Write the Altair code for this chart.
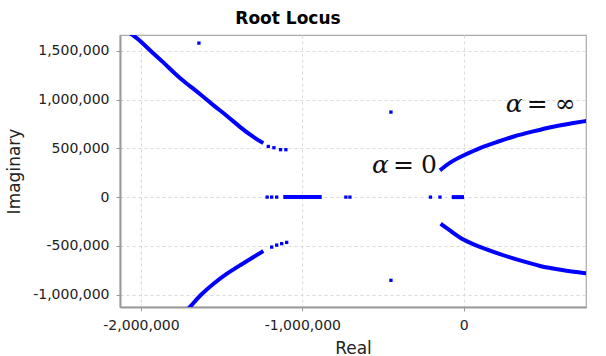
import altair as alt
import pandas as pd

# ---- data (units: real / imaginary) ----
ul_re = [-2.07e6, -2.048e6, -2.007e6, -1.934e6, -1.862e6, -1.790e6, -1.717e6, -1.635e6, -1.552e6, -1.469e6, -1.387e6, -1.304e6, -1.242e6]
ul_im = [1.68e6, 1.657e6, 1.606e6, 1.486e6, 1.383e6, 1.264e6, 1.162e6, 1.059e6, 0.940e6, 0.837e6, 0.717e6, 0.615e6, 0.553e6]
ll_re = [-1.705e6, -1.692e6, -1.635e6, -1.552e6, -1.469e6, -1.387e6, -1.304e6, -1.242e6]
ll_im = [-1.14e6, -1.120e6, -1.007e6, -0.887e6, -0.784e6, -0.699e6, -0.615e6, -0.553e6]
ur_re = [-0.147e6, -0.085e6, -0.002e6, 0.101e6, 0.205e6, 0.307e6, 0.431e6, 0.555e6, 0.679e6, 0.752e6, 0.77e6]
ur_im = [0.274e6, 0.359e6, 0.427e6, 0.506e6, 0.564e6, 0.622e6, 0.673e6, 0.724e6, 0.758e6, 0.779e6, 0.781e6]
lr_re = [-0.143e6, -0.085e6, -0.002e6, 0.101e6, 0.225e6, 0.349e6, 0.473e6, 0.597e6, 0.741e6, 0.77e6]
lr_im = [-0.273e6, -0.341e6, -0.444e6, -0.512e6, -0.587e6, -0.649e6, -0.710e6, -0.744e6, -0.779e6, -0.781e6]
seg1_re = [-1.118e6, -0.880e6]
seg2_re = [-0.074e6, 0.002e6]

dot_re = [-1.211e6, -1.176e6, -1.135e6, -1.102e6,
          -1.190e6, -1.159e6, -1.128e6, -1.097e6,
          -1.218e6, -1.190e6, -1.159e6, -0.730e6, -0.705e6, -0.206e6, -0.147e6,
          -1.641e6, -0.451e6, -0.451e6]
dot_im = [0.519e6, 0.506e6, 0.486e6, 0.486e6,
          -0.512e6, -0.492e6, -0.477e6, -0.464e6,
          0, 0, 0, 0, 0, 0, 0,
          1.578e6, 0.871e6, -0.853e6]

ann_re = [-0.569e6, 0.260e6]
ann_im = [0.243e6, 0.871e6]
ann_rhs = ["0", "∞"]

# ---- tables ----
rows = []
for name, xs, ys in [("ul", ul_re, ul_im), ("ll", ll_re, ll_im), ("ur", ur_re, ur_im), ("lr", lr_re, lr_im),
                     ("s1", seg1_re, [0, 0]), ("s2", seg2_re, [0, 0])]:
    for i, (x, y) in enumerate(zip(xs, ys)):
        rows.append({"branch": name, "i": i, "re": x, "im": y})
lines_df = pd.DataFrame(rows)
dots_df = pd.DataFrame({"re": dot_re, "im": dot_im})
ann_df = pd.DataFrame({"re": ann_re, "im": ann_im, "rhs": ann_rhs})

BLUE = "#0000ff"
FONT = "DejaVu Sans"
label_expr = "replace(format(datum.value, ','), '\u2212', '-')"

xscale = alt.Scale(domain=[-2.13e6, 0.758e6], nice=False, zero=False)
yscale = alt.Scale(domain=[-1.126e6, 1.661e6], nice=False, zero=False)

xaxis = alt.Axis(title="Real", values=[-2e6, -1e6, 0], labelExpr=label_expr,
                 titleY=41, titleBaseline="middle")
yaxis = alt.Axis(title="Imaginary", values=[-1e6, -5e5, 0, 5e5, 1e6, 1.5e6], labelExpr=label_expr,
                 titleX=-106, titleY=136, titleBaseline="middle", titleAlign="center", titleAngle=270)

X = alt.X("re:Q", scale=xscale, axis=xaxis)
Y = alt.Y("im:Q", scale=yscale, axis=yaxis)

lines = alt.Chart(lines_df).mark_line(color=BLUE, strokeWidth=4, clip=True, interpolate="basis").encode(
    x=X, y=Y, detail="branch:N", order="i:Q")

dots = alt.Chart(dots_df).mark_square(color=BLUE, size=11, opacity=1, clip=True).encode(x=X, y=Y)

txt_alpha = alt.Chart(ann_df).mark_text(text="α", font="DejaVu Serif", fontStyle="italic", fontSize=25,
                                        align="left", baseline="alphabetic", color="#111").encode(x=X, y=Y)
txt_eq = alt.Chart(ann_df).mark_text(text="=", font="DejaVu Serif", fontSize=25, align="left",
                                     baseline="alphabetic", dx=21, color="#111").encode(x=X, y=Y)
txt_rhs = alt.Chart(ann_df).mark_text(font="DejaVu Serif", fontSize=25, align="left",
                                      baseline="alphabetic", dx=49, color="#111").encode(x=X, y=Y, text="rhs:N")

chart = alt.layer(lines, dots, txt_alpha, txt_eq, txt_rhs).properties(
    width=466, height=272,
    title=alt.TitleParams("Root Locus", font=FONT, fontSize=17, fontWeight="bold", color="#000",
                          anchor="middle", dx=-65, dy=18, offset=12, baseline="alphabetic"),
    autosize=alt.AutoSizeParams(type="none"),
    padding={"left": 120, "top": 35, "right": 20, "bottom": 49},
).configure_view(stroke="#aaaaaa", strokeWidth=1.2).configure_axis(
    labelFont=FONT, labelFontSize=14, labelColor="#222", labelPadding=7,
    titleFont=FONT, titleFontSize=17, titleFontWeight="normal", titleColor="#222",
    domainColor="#999999", domainWidth=2, tickColor="#999999", tickSize=4, tickWidth=1,
    grid=True, gridColor="#d9d9d9", gridDash=[3, 3], gridWidth=1,
)

chart.save("out.html", embed_options={"renderer": "svg", "actions": False})
